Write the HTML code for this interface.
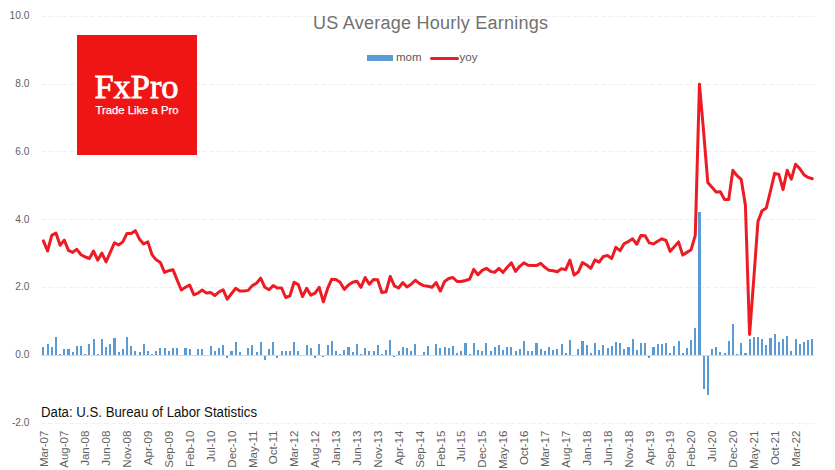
<!DOCTYPE html>
<html><head><meta charset="utf-8"><style>
html,body{margin:0;padding:0;background:#fff;}
body{width:835px;height:470px;overflow:hidden;position:relative;font-family:"Liberation Sans",sans-serif;}
svg{position:absolute;left:0;top:0;}
</style></head><body>
<svg width="835" height="470" viewBox="0 0 835 470">
<rect width="835" height="470" fill="#fff"/>
<g stroke="#f0f0f0" stroke-width="1" stroke-dasharray="5,2" fill="none" shape-rendering="crispEdges"><line x1="41" y1="16.5" x2="814.5" y2="16.5"/><line x1="41" y1="84.5" x2="814.5" y2="84.5"/><line x1="41" y1="151.5" x2="814.5" y2="151.5"/><line x1="41" y1="219.5" x2="814.5" y2="219.5"/><line x1="41" y1="287.5" x2="814.5" y2="287.5"/><line x1="41" y1="423.5" x2="814.5" y2="423.5"/></g>
<g font-family="Liberation Sans, sans-serif" font-size="11" fill="#5f5f5f" transform="translate(29.5,0) scale(0.93,1) translate(-29.5,0)"><text x="29.5" y="19.1" text-anchor="end">10.0</text><text x="29.5" y="86.9" text-anchor="end">8.0</text><text x="29.5" y="154.8" text-anchor="end">6.0</text><text x="29.5" y="222.6" text-anchor="end">4.0</text><text x="29.5" y="290.5" text-anchor="end">2.0</text><text x="29.5" y="358.3" text-anchor="end">0.0</text><text x="29.5" y="426.1" text-anchor="end">-2.0</text></g>
<g font-family="Liberation Sans, sans-serif" font-size="11.5" fill="#5f5f5f"><text transform="translate(47.59,430.6) rotate(-90)" text-anchor="end">Mar-07</text><text transform="translate(68.48,430.6) rotate(-90)" text-anchor="end">Aug-07</text><text transform="translate(89.38,430.6) rotate(-90)" text-anchor="end">Jan-08</text><text transform="translate(110.27,430.6) rotate(-90)" text-anchor="end">Jun-08</text><text transform="translate(131.16,430.6) rotate(-90)" text-anchor="end">Nov-08</text><text transform="translate(152.06,430.6) rotate(-90)" text-anchor="end">Apr-09</text><text transform="translate(172.95,430.6) rotate(-90)" text-anchor="end">Sep-09</text><text transform="translate(193.84,430.6) rotate(-90)" text-anchor="end">Feb-10</text><text transform="translate(214.74,430.6) rotate(-90)" text-anchor="end">Jul-10</text><text transform="translate(235.63,430.6) rotate(-90)" text-anchor="end">Dec-10</text><text transform="translate(256.52,430.6) rotate(-90)" text-anchor="end">May-11</text><text transform="translate(277.42,430.6) rotate(-90)" text-anchor="end">Oct-11</text><text transform="translate(298.31,430.6) rotate(-90)" text-anchor="end">Mar-12</text><text transform="translate(319.21,430.6) rotate(-90)" text-anchor="end">Aug-12</text><text transform="translate(340.10,430.6) rotate(-90)" text-anchor="end">Jan-13</text><text transform="translate(360.99,430.6) rotate(-90)" text-anchor="end">Jun-13</text><text transform="translate(381.89,430.6) rotate(-90)" text-anchor="end">Nov-13</text><text transform="translate(402.78,430.6) rotate(-90)" text-anchor="end">Apr-14</text><text transform="translate(423.67,430.6) rotate(-90)" text-anchor="end">Sep-14</text><text transform="translate(444.57,430.6) rotate(-90)" text-anchor="end">Feb-15</text><text transform="translate(465.46,430.6) rotate(-90)" text-anchor="end">Jul-15</text><text transform="translate(486.35,430.6) rotate(-90)" text-anchor="end">Dec-15</text><text transform="translate(507.25,430.6) rotate(-90)" text-anchor="end">May-16</text><text transform="translate(528.14,430.6) rotate(-90)" text-anchor="end">Oct-16</text><text transform="translate(549.03,430.6) rotate(-90)" text-anchor="end">Mar-17</text><text transform="translate(569.93,430.6) rotate(-90)" text-anchor="end">Aug-17</text><text transform="translate(590.82,430.6) rotate(-90)" text-anchor="end">Jan-18</text><text transform="translate(611.71,430.6) rotate(-90)" text-anchor="end">Jun-18</text><text transform="translate(632.61,430.6) rotate(-90)" text-anchor="end">Nov-18</text><text transform="translate(653.50,430.6) rotate(-90)" text-anchor="end">Apr-19</text><text transform="translate(674.40,430.6) rotate(-90)" text-anchor="end">Sep-19</text><text transform="translate(695.29,430.6) rotate(-90)" text-anchor="end">Feb-20</text><text transform="translate(716.18,430.6) rotate(-90)" text-anchor="end">Jul-20</text><text transform="translate(737.08,430.6) rotate(-90)" text-anchor="end">Dec-20</text><text transform="translate(757.97,430.6) rotate(-90)" text-anchor="end">May-21</text><text transform="translate(778.86,430.6) rotate(-90)" text-anchor="end">Oct-21</text><text transform="translate(799.76,430.6) rotate(-90)" text-anchor="end">Mar-22</text></g>
<rect x="77" y="35" width="120" height="120" fill="#ef1515"/>
<text x="94.5" y="98" font-family="Liberation Serif, serif" font-size="33" textLength="84" lengthAdjust="spacingAndGlyphs" fill="#fff" stroke="#fff" stroke-width="0.8">FxPro</text>
<text x="95.5" y="113.8" font-family="Liberation Sans, sans-serif" font-size="11" textLength="83" lengthAdjust="spacingAndGlyphs" fill="#fff" stroke="#fff" stroke-width="0.25">Trade Like a Pro</text>
<text x="313" y="29.3" font-family="Liberation Sans, sans-serif" font-size="18" textLength="235" lengthAdjust="spacing" fill="#717171">US Average Hourly Earnings</text>
<rect x="367" y="55" width="26" height="6" fill="#5b9bd5"/>
<text x="396" y="61" font-family="Liberation Sans, sans-serif" font-size="11.5" fill="#595959">mom</text>
<line x1="431.5" y1="58.5" x2="457.5" y2="58.5" stroke="#ed1c24" stroke-width="3" stroke-linecap="round"/>
<text x="459.5" y="61" font-family="Liberation Sans, sans-serif" font-size="11.5" fill="#595959">yoy</text>
<text x="41" y="416.5" font-family="Liberation Sans, sans-serif" font-size="14" textLength="216" lengthAdjust="spacingAndGlyphs" fill="#111">Data: U.S. Bureau of Labor Statistics</text>
<g fill="#5b9bd5" shape-rendering="crispEdges"><rect x="42" y="347.00" width="2" height="8.00"/><rect x="47" y="344.00" width="2" height="11.00"/><rect x="51" y="347.00" width="2" height="8.00"/><rect x="55" y="337.00" width="2" height="18.00"/><rect x="59" y="354.00" width="2" height="1.00"/><rect x="63" y="349.00" width="2" height="6.00"/><rect x="67" y="349.00" width="3" height="6.00"/><rect x="72" y="352.00" width="2" height="3.00"/><rect x="76" y="346.00" width="2" height="9.00"/><rect x="80" y="346.00" width="2" height="9.00"/><rect x="84" y="354.00" width="2" height="1.00"/><rect x="88" y="344.00" width="2" height="11.00"/><rect x="93" y="339.00" width="2" height="16.00"/><rect x="97" y="354.00" width="2" height="1.00"/><rect x="101" y="339.00" width="2" height="16.00"/><rect x="105" y="347.00" width="2" height="8.00"/><rect x="109" y="344.00" width="2" height="11.00"/><rect x="113" y="338.00" width="3" height="17.00"/><rect x="118" y="352.00" width="2" height="3.00"/><rect x="122" y="349.00" width="2" height="6.00"/><rect x="126" y="337.00" width="2" height="18.00"/><rect x="130" y="346.00" width="2" height="9.00"/><rect x="134" y="351.00" width="2" height="4.00"/><rect x="139" y="352.00" width="2" height="3.00"/><rect x="143" y="344.00" width="2" height="11.00"/><rect x="147" y="351.00" width="2" height="4.00"/><rect x="151" y="354.00" width="2" height="1.00"/><rect x="155" y="351.00" width="2" height="4.00"/><rect x="159" y="348.00" width="2" height="7.00"/><rect x="164" y="348.00" width="2" height="7.00"/><rect x="168" y="351.00" width="2" height="4.00"/><rect x="172" y="348.00" width="2" height="7.00"/><rect x="176" y="348.00" width="2" height="7.00"/><rect x="184" y="348.00" width="3" height="7.00"/><rect x="189" y="349.00" width="2" height="6.00"/><rect x="197" y="349.00" width="2" height="6.00"/><rect x="201" y="349.00" width="2" height="6.00"/><rect x="210" y="346.00" width="2" height="9.00"/><rect x="214" y="351.00" width="2" height="4.00"/><rect x="218" y="348.00" width="2" height="7.00"/><rect x="222" y="345.00" width="2" height="10.00"/><rect x="226" y="356" width="2" height="1.50"/><rect x="230" y="351.00" width="3" height="4.00"/><rect x="235" y="342.00" width="2" height="13.00"/><rect x="239" y="352.00" width="2" height="3.00"/><rect x="247" y="348.00" width="2" height="7.00"/><rect x="251" y="345.00" width="2" height="10.00"/><rect x="256" y="352.00" width="2" height="3.00"/><rect x="260" y="342.00" width="2" height="13.00"/><rect x="264" y="356" width="2" height="3.60"/><rect x="268" y="349.00" width="2" height="6.00"/><rect x="272" y="342.00" width="2" height="13.00"/><rect x="276" y="356" width="2" height="2.30"/><rect x="281" y="351.00" width="2" height="4.00"/><rect x="285" y="351.00" width="2" height="4.00"/><rect x="289" y="351.00" width="2" height="4.00"/><rect x="293" y="342.00" width="2" height="13.00"/><rect x="297" y="351.00" width="2" height="4.00"/><rect x="306" y="345.00" width="2" height="10.00"/><rect x="310" y="348.00" width="2" height="7.00"/><rect x="314" y="356" width="2" height="2.00"/><rect x="318" y="344.00" width="2" height="11.00"/><rect x="322" y="356" width="2" height="1.00"/><rect x="327" y="345.00" width="2" height="10.00"/><rect x="331" y="341.00" width="2" height="14.00"/><rect x="335" y="351.00" width="2" height="4.00"/><rect x="339" y="354.00" width="2" height="1.00"/><rect x="343" y="350.00" width="2" height="5.00"/><rect x="347" y="347.00" width="3" height="8.00"/><rect x="352" y="352.00" width="2" height="3.00"/><rect x="356" y="344.00" width="2" height="11.00"/><rect x="360" y="354.00" width="2" height="1.00"/><rect x="364" y="348.00" width="2" height="7.00"/><rect x="368" y="351.00" width="2" height="4.00"/><rect x="373" y="351.00" width="2" height="4.00"/><rect x="377" y="345.00" width="2" height="10.00"/><rect x="381" y="354.00" width="2" height="1.00"/><rect x="385" y="350.00" width="2" height="5.00"/><rect x="389" y="340.00" width="2" height="15.00"/><rect x="393" y="356" width="2" height="1.00"/><rect x="398" y="351.00" width="2" height="4.00"/><rect x="402" y="347.00" width="2" height="8.00"/><rect x="406" y="348.00" width="2" height="7.00"/><rect x="410" y="351.00" width="2" height="4.00"/><rect x="414" y="344.00" width="2" height="11.00"/><rect x="423" y="352.00" width="2" height="3.00"/><rect x="427" y="346.00" width="2" height="9.00"/><rect x="435" y="344.00" width="2" height="11.00"/><rect x="439" y="348.00" width="2" height="7.00"/><rect x="444" y="347.00" width="2" height="8.00"/><rect x="448" y="348.00" width="2" height="7.00"/><rect x="452" y="346.00" width="2" height="9.00"/><rect x="456" y="353.00" width="2" height="2.00"/><rect x="460" y="351.00" width="2" height="4.00"/><rect x="464" y="343.00" width="3" height="12.00"/><rect x="469" y="354.00" width="2" height="1.00"/><rect x="473" y="343.00" width="2" height="12.00"/><rect x="477" y="350.00" width="2" height="5.00"/><rect x="481" y="351.00" width="2" height="4.00"/><rect x="485" y="343.00" width="2" height="12.00"/><rect x="490" y="351.00" width="2" height="4.00"/><rect x="494" y="347.00" width="2" height="8.00"/><rect x="498" y="345.00" width="2" height="10.00"/><rect x="502" y="350.00" width="2" height="5.00"/><rect x="506" y="347.00" width="2" height="8.00"/><rect x="510" y="347.00" width="2" height="8.00"/><rect x="515" y="351.00" width="2" height="4.00"/><rect x="519" y="349.00" width="2" height="6.00"/><rect x="523" y="341.00" width="2" height="14.00"/><rect x="527" y="351.00" width="2" height="4.00"/><rect x="531" y="351.00" width="2" height="4.00"/><rect x="535" y="343.00" width="3" height="12.00"/><rect x="540" y="349.00" width="2" height="6.00"/><rect x="544" y="351.00" width="2" height="4.00"/><rect x="548" y="347.00" width="2" height="8.00"/><rect x="552" y="350.00" width="2" height="5.00"/><rect x="556" y="349.00" width="2" height="6.00"/><rect x="561" y="344.00" width="2" height="11.00"/><rect x="565" y="353.00" width="2" height="2.00"/><rect x="569" y="340.00" width="2" height="15.00"/><rect x="577" y="349.00" width="2" height="6.00"/><rect x="581" y="341.00" width="3" height="14.00"/><rect x="586" y="345.00" width="2" height="10.00"/><rect x="590" y="353.00" width="2" height="2.00"/><rect x="594" y="343.00" width="2" height="12.00"/><rect x="598" y="350.00" width="2" height="5.00"/><rect x="602" y="345.00" width="2" height="10.00"/><rect x="607" y="348.00" width="2" height="7.00"/><rect x="611" y="346.00" width="2" height="9.00"/><rect x="615" y="342.00" width="2" height="13.00"/><rect x="619" y="343.00" width="2" height="12.00"/><rect x="623" y="349.00" width="2" height="6.00"/><rect x="627" y="347.00" width="3" height="8.00"/><rect x="632" y="339.00" width="2" height="16.00"/><rect x="636" y="350.00" width="2" height="5.00"/><rect x="640" y="343.00" width="2" height="12.00"/><rect x="644" y="343.00" width="2" height="12.00"/><rect x="648" y="356" width="2" height="2.00"/><rect x="652" y="347.00" width="3" height="8.00"/><rect x="657" y="344.00" width="2" height="11.00"/><rect x="661" y="344.00" width="2" height="11.00"/><rect x="665" y="343.00" width="2" height="12.00"/><rect x="669" y="353.00" width="2" height="2.00"/><rect x="673" y="346.00" width="2" height="9.00"/><rect x="678" y="341.00" width="2" height="14.00"/><rect x="682" y="353.00" width="2" height="2.00"/><rect x="686" y="348.00" width="2" height="7.00"/><rect x="690" y="340.00" width="2" height="15.00"/><rect x="694" y="328.00" width="2" height="27.00"/><rect x="698" y="212.00" width="3" height="143.00"/><rect x="703" y="356" width="2" height="32.60"/><rect x="707" y="356" width="2" height="38.60"/><rect x="711" y="349.00" width="2" height="6.00"/><rect x="715" y="347.00" width="2" height="8.00"/><rect x="719" y="352.00" width="2" height="3.00"/><rect x="724" y="353.00" width="2" height="2.00"/><rect x="728" y="341.00" width="2" height="14.00"/><rect x="732" y="324.00" width="2" height="31.00"/><rect x="736" y="354.00" width="2" height="1.00"/><rect x="740" y="343.00" width="2" height="12.00"/><rect x="744" y="353.00" width="3" height="2.00"/><rect x="749" y="339.00" width="2" height="16.00"/><rect x="753" y="337.00" width="2" height="18.00"/><rect x="757" y="337.00" width="2" height="18.00"/><rect x="761" y="339.00" width="2" height="16.00"/><rect x="765" y="345.00" width="2" height="10.00"/><rect x="769" y="338.00" width="3" height="17.00"/><rect x="774" y="334.00" width="2" height="21.00"/><rect x="778" y="342.00" width="2" height="13.00"/><rect x="782" y="339.00" width="2" height="16.00"/><rect x="786" y="336.00" width="2" height="19.00"/><rect x="790" y="351.00" width="2" height="4.00"/><rect x="795" y="339.00" width="2" height="16.00"/><rect x="799" y="344.00" width="2" height="11.00"/><rect x="803" y="342.00" width="2" height="13.00"/><rect x="807" y="340.00" width="2" height="15.00"/><rect x="811" y="339.00" width="2" height="16.00"/></g>
<line x1="41" y1="355.5" x2="814" y2="355.5" stroke="#d9d9d9" stroke-width="1" shape-rendering="crispEdges"/>
<polyline points="43.39,240.85 47.57,251.03 51.75,235.42 55.93,233.05 60.10,245.26 64.28,240.17 68.46,250.35 72.64,252.38 76.82,249.33 81.00,254.76 85.18,256.79 89.36,258.49 93.53,251.03 97.71,260.18 101.89,253.06 106.07,261.88 110.25,252.38 114.43,242.89 118.61,244.92 122.79,241.87 126.96,233.39 131.14,233.39 135.32,230.67 139.50,239.15 143.68,243.90 147.86,241.87 152.04,254.76 156.21,259.85 160.39,262.56 164.57,272.40 168.75,270.70 172.93,269.68 177.11,279.86 181.29,290.03 185.47,287.32 189.64,284.95 193.82,294.78 198.00,293.09 202.18,290.03 206.36,293.09 210.54,292.41 214.72,295.46 218.90,292.07 223.07,289.70 227.25,299.19 231.43,293.77 235.61,288.34 239.79,291.05 243.97,291.05 248.15,290.37 252.32,285.62 256.50,283.25 260.68,278.16 264.86,287.32 269.04,289.70 273.22,285.62 277.40,288.00 281.58,288.00 285.75,297.50 289.93,295.80 294.11,282.23 298.29,284.61 302.47,296.48 306.65,288.34 310.83,295.12 315.01,293.09 319.18,287.32 323.36,301.91 327.54,288.68 331.72,279.18 335.90,279.52 340.08,282.23 344.26,289.36 348.44,284.95 352.61,282.23 356.79,281.22 360.97,287.32 365.15,277.48 369.33,284.27 373.51,279.52 377.69,279.86 381.86,292.41 386.04,291.73 390.22,276.47 394.40,285.96 398.58,288.00 402.76,282.57 406.94,286.98 411.12,284.27 415.29,280.20 419.47,283.59 423.65,285.62 427.83,286.30 432.01,287.32 436.19,282.57 440.37,291.05 444.55,281.55 448.72,278.50 452.90,277.48 457.08,281.55 461.26,281.55 465.44,280.54 469.62,279.18 473.80,269.34 477.97,274.77 482.15,270.36 486.33,268.33 490.51,271.38 494.69,272.40 498.87,268.33 503.05,272.40 507.23,267.31 511.40,262.90 515.58,271.38 519.76,266.29 523.94,262.90 528.12,265.27 532.30,265.61 536.48,265.61 540.66,263.24 544.83,267.31 549.01,270.36 553.19,270.70 557.37,271.72 561.55,268.66 565.73,269.68 569.91,260.18 574.08,275.11 578.26,272.06 582.44,262.56 586.62,264.93 590.80,268.33 594.98,259.85 599.16,262.22 603.34,256.45 607.51,255.44 611.69,258.49 615.87,247.30 620.05,250.69 624.23,243.56 628.41,241.53 632.59,238.82 636.77,244.24 640.94,235.42 645.12,235.76 649.30,242.89 653.48,243.90 657.66,241.19 661.84,238.82 666.02,240.51 670.20,251.37 674.37,246.62 678.55,241.87 682.73,255.10 686.91,252.38 691.09,249.67 695.27,235.42 699.45,84.14 703.62,131.63 707.80,182.51 711.98,187.26 716.16,192.01 720.34,191.67 724.52,199.47 728.70,199.47 732.88,170.30 737.05,175.72 741.23,179.46 745.41,205.23 749.59,334.47 753.77,279.18 757.95,221.52 762.13,210.66 766.31,207.95 770.48,190.99 774.66,173.35 778.84,174.37 783.02,189.63 787.20,170.30 791.38,179.12 795.56,164.19 799.73,168.60 803.91,174.71 808.09,177.42 812.27,178.78" fill="none" stroke="#ed1c24" stroke-width="3" stroke-linejoin="round" stroke-linecap="round"/>
</svg>
</body></html>
